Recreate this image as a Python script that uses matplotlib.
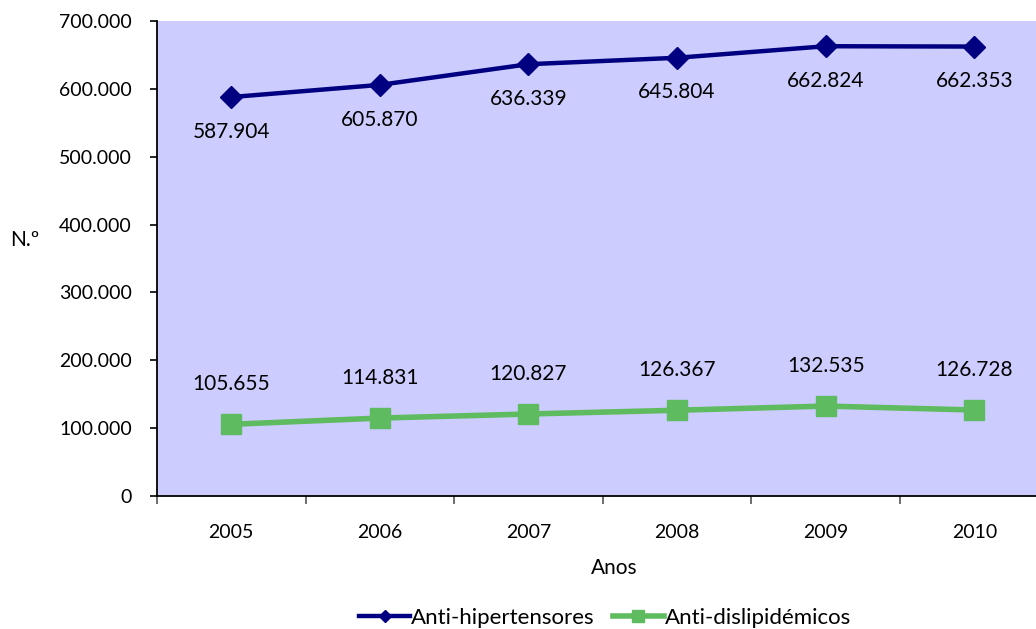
import matplotlib
matplotlib.use("Agg")
import matplotlib.pyplot as plt
from matplotlib.lines import Line2D
from matplotlib.ticker import FuncFormatter, FixedLocator

plt.rcParams['font.family'] = ['Lato', 'DejaVu Sans']

years = ["2005", "2006", "2007", "2008", "2009", "2010"]
anti_hipertensores = [587904, 605870, 636339, 645804, 662824, 662353]
anti_dislipidemicos = [105655, 114831, 120827, 126367, 132535, 126728]
series_names = ["Anti-hipertensores", "Anti-dislipidémicos"]

blue = "#000080"
green = "#5FBB5F"
bg = "#CCCCFF"

W, H = 1036, 629
fig = plt.figure(figsize=(W / 100, H / 100), dpi=100)
left, right, top, bottom = 157, 1048.6, 21, 496
ax = fig.add_axes([left / W, (H - bottom) / H, (right - left) / W, (bottom - top) / H])
ax.set_facecolor(bg)

x = list(range(len(years)))
ax.plot(x, anti_hipertensores, color=blue, lw=3.2, marker="D", ms=11, zorder=3)
ax.plot(x, anti_dislipidemicos, color=green, lw=4, marker="s", ms=15, zorder=3)

def fmt(v):
    return f"{v:,.0f}".replace(",", ".")

for xi, v in zip(x, anti_hipertensores):
    ax.annotate(fmt(v), (xi, v), xytext=(0, -25), textcoords="offset points",
                ha="center", va="center", fontsize=15, color="black")
for xi, v in zip(x, anti_dislipidemicos):
    ax.annotate(fmt(v), (xi, v), xytext=(0, 29), textcoords="offset points",
                ha="center", va="center", fontsize=15, color="black")

ax.set_xlim(-0.5, 5.5)
ax.set_ylim(0, 700000)
ax.set_yticks(range(0, 700001, 100000))
ax.yaxis.set_major_formatter(FuncFormatter(lambda v, p: fmt(v)))
ax.tick_params(axis="y", labelsize=14, length=5, width=1.2, pad=13, colors="black")

ax.set_xticks(x)
ax.set_xticklabels(years)
ax.tick_params(axis="x", which="major", length=0, labelsize=14, pad=20)
ax.xaxis.set_minor_locator(FixedLocator([i - 0.5 for i in range(len(years) + 1)]))
ax.tick_params(axis="x", which="minor", length=6, width=1.2, color="#555555")

for s in ["top", "right"]:
    ax.spines[s].set_visible(False)
for s in ["left", "bottom"]:
    ax.spines[s].set_color("black")
    ax.spines[s].set_linewidth(1.3)

fig.text(614 / W, 1 - 568 / H, "Anos", ha="center", va="center", fontsize=15)
fig.text(25 / W, 1 - 240 / H, "N.º", ha="center", va="center", fontsize=15)

handles = [
    Line2D([], [], color=blue, lw=3.2, marker="D", ms=6),
    Line2D([], [], color=green, lw=4, marker="s", ms=9),
]
fig.legend(handles, series_names, loc="center", bbox_to_anchor=(605 / W, 1 - 618 / H),
           ncol=2, frameon=False, fontsize=16, handlelength=2.3, handletextpad=0.05,
           columnspacing=0.8)

fig.savefig("out.png", dpi=100)
